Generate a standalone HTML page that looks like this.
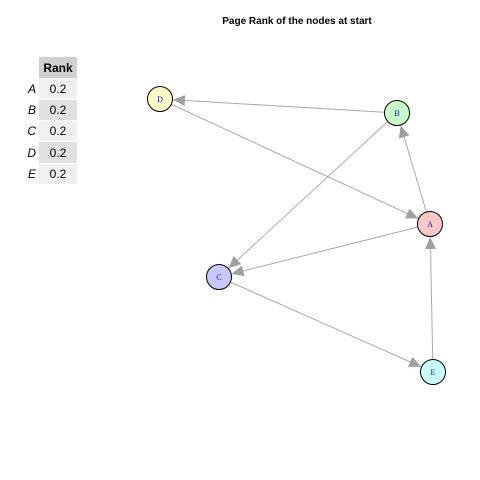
<!DOCTYPE html>
<html><head><meta charset="utf-8"><style>
body{margin:0;background:#fff;}
svg{display:block;}
</style></head><body>
<svg width="480" height="480" viewBox="0 0 480 480" xmlns="http://www.w3.org/2000/svg">
<defs>
<marker id="ar" markerUnits="userSpaceOnUse" markerWidth="60" markerHeight="30" refX="30" refY="15" orient="auto" viewBox="0 0 60 30">
<path d="M5,9.5 L17,15 L5,20.5 z" fill="#a0a0a0"/>
</marker>
</defs>
<rect width="480" height="480" fill="#fff"/>
<text x="297" y="24" font-family="Liberation Sans, sans-serif" font-size="10" font-weight="bold" text-anchor="middle">Page Rank of the nodes at start</text>
<!-- table -->
<rect x="39" y="57" width="38" height="21" fill="#d0d0d0"/>
<text x="58" y="72" font-family="Liberation Sans, sans-serif" font-size="12" font-weight="bold" text-anchor="middle">Rank</text>
<g font-family="Liberation Sans, sans-serif" font-size="12">
<rect x="39" y="78" width="38" height="21" fill="#f0f0f0"/>
<rect x="39" y="100" width="38" height="20" fill="#e0e0e0"/>
<rect x="39" y="121" width="38" height="20" fill="#f0f0f0"/>
<rect x="39" y="142" width="38" height="21" fill="#e0e0e0"/>
<rect x="39" y="164" width="38" height="20" fill="#f0f0f0"/>
<g font-style="italic" text-anchor="end">
<text x="36" y="93">A</text><text x="36" y="114">B</text><text x="36" y="135">C</text><text x="36" y="157">D</text><text x="36" y="178">E</text>
</g>
<g text-anchor="middle">
<text x="58" y="93">0.2</text><text x="58" y="114">0.2</text><text x="58" y="135">0.2</text><text x="58" y="157">0.2</text><text x="58" y="178">0.2</text>
</g>
</g>
<!-- edges -->
<g stroke="#a8a8a8" stroke-width="1" marker-end="url(#ar)">
<line x1="397" y1="113" x2="160" y2="99"/>
<line x1="160" y1="99" x2="430" y2="224"/>
<line x1="430" y1="224" x2="397" y2="113"/>
<line x1="397" y1="113" x2="219" y2="277"/>
<line x1="430" y1="224" x2="219" y2="277"/>
<line x1="219" y1="277" x2="433" y2="372"/>
<line x1="433" y1="372" x2="430" y2="224"/>
</g>
<!-- nodes -->
<g stroke="#000" stroke-width="1" font-family="Liberation Serif, serif" font-size="8" text-anchor="middle">
<circle cx="160" cy="99" r="12.5" fill="#ffffc8"/>
<circle cx="397" cy="113" r="12.5" fill="#c8ffc8"/>
<circle cx="430" cy="224" r="12.5" fill="#ffc8c8"/>
<circle cx="219" cy="277" r="12.5" fill="#c8c8ff"/>
<circle cx="433" cy="372" r="12.5" fill="#c8ffff"/>
</g>
<g font-family="Liberation Serif, serif" font-size="8" text-anchor="middle" fill="#0000cc">
<text x="160" y="102">D</text>
<text x="397" y="116">B</text>
<text x="430" y="227">A</text>
<text x="219" y="280">C</text>
<text x="433" y="375">E</text>
</g>
</svg>
</body></html>
